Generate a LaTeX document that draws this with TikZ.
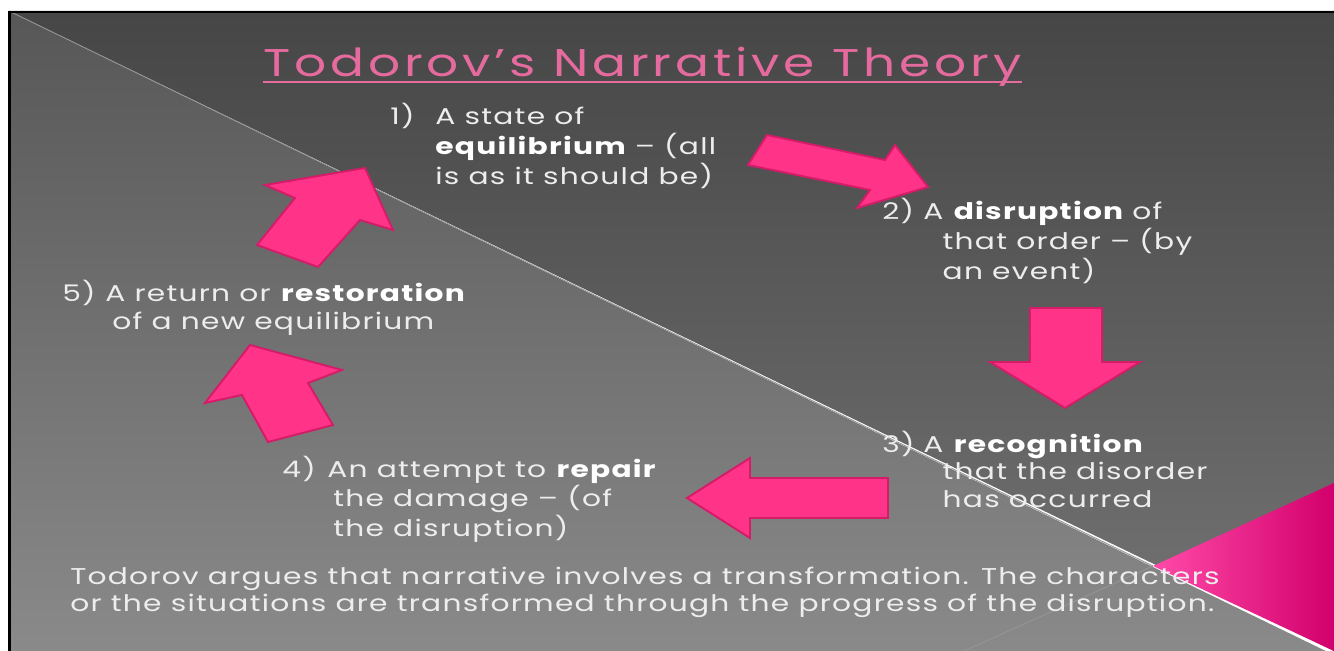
\documentclass[tikz,border=0pt]{standalone}
\usepackage{fontspec}
\setmainfont{Poppins}[FakeStretch=1.3, LetterSpace=5.5]
\newfontfamily\titlefamily{Poppins}[FakeStretch=1.3, LetterSpace=10]

\definecolor{slidetop}{HTML}{464646}
\definecolor{slidebottom}{HTML}{747474}
\definecolor{lowertop}{HTML}{575757}
\definecolor{lowerbottom}{HTML}{8A8A8A}
\definecolor{faintline}{HTML}{959595}
\definecolor{titlepink}{HTML}{E56A9E}
\definecolor{arrowpink}{HTML}{FF3388}
\definecolor{arrowedge}{HTML}{D41C68}
\definecolor{tripinklight}{HTML}{FF4AA8}
\definecolor{tripinkdark}{HTML}{D2006C}
\definecolor{txtgray}{HTML}{EDEDED}

\newcommand{\stagelines}[1]{\begin{tabular}[t]{@{}l@{}}#1\end{tabular}}
\newcommand{\keyword}[1]{\textbf{\color{white}#1}}

\begin{document}
\begin{tikzpicture}[
    x=0.02cm, y=-0.02cm,
    every node/.style={inner sep=0pt, text=txtgray},
    titletext/.style={font=\titlefamily\fontsize{22}{26}\selectfont, text=titlepink, anchor=base west},
    stagetext/.style={font=\fontsize{13}{15.9}\selectfont, anchor=base west},
    summarytext/.style={font=\fontsize{13}{15.4}\selectfont, anchor=base west},
    blockarrow/.style={fill=arrowpink, draw=arrowedge, line width=1.1pt, line join=miter}
]

\useasboundingbox (0,0) rectangle (1334,651);
\fill[white] (0,0) rectangle (1334,651);

% === Slide background (two shaded halves) ===
\shade[top color=slidetop, bottom color=slidebottom]
    (9,11) -- (1334,11) -- (1334,651) -- cycle;
\shade[top color=lowertop, bottom color=lowerbottom]
    (9,11) -- (1334,655) -- (1334,651) -- (9,651) -- cycle;

% Pink corner triangle
\shade[left color=tripinklight, right color=tripinkdark]
    (1153,566) -- (1334,483) -- (1334,651) -- cycle;

% Faint guide lines
\draw[faintline, line width=0.5pt] (9,11) -- (1153,566);
\draw[faintline, line width=0.5pt] (964,651) -- (1153,566);

% Slide frame (top and left only)
\draw[black, line width=1.3pt] (9.5,651) -- (9.5,12) -- (1334,12);

% === Title ===
\node[titletext] (title) at (263,77) {Todorov’s Narrative Theory};
\draw[titlepink, line width=1pt]
    ([yshift=-3pt]title.base west) -- ([yshift=-3pt]title.base east);

% === Stages ===
\node[stagetext] (n1) at (390,125) {1)};
\node[stagetext] (s1) at (435,125)
    {\stagelines{A state of\\ \keyword{equilibrium} – (all\\ is as it should be)}};

\node[stagetext] (n2) at (882,220) {2)};
\node[stagetext] (s2) at (923,220)
    {\stagelines{A \keyword{disruption} of\\ \hspace*{11pt}that order – (by\\ \hspace*{11pt}an event)}};

\node[stagetext] (n3) at (882,452) {3)};
\node[stagetext] (s3) at (923,452)
    {\stagelines{A \keyword{recognition}\\ \hspace*{11pt}that the disorder\\ \hspace*{11pt}has occurred}};

\node[stagetext] (n4) at (282,477) {4)};
\node[stagetext] (s4) at (327,477)
    {\stagelines{An attempt to \keyword{repair}\\ \hspace*{3.4pt}the damage – (of\\ \hspace*{3.4pt}the disruption)}};

\node[stagetext] (n5) at (62,302) {5)};
\node[stagetext] (s5) at (105,302)
    {\stagelines{A return or \keyword{restoration}\\ \hspace*{4pt}of a new equilibrium}};

% === Block arrows between stages ===
% 1 -> 2
\draw[blockarrow] (767,135) -- (885,160) -- (895,145) -- (928,187)
    -- (857,208) -- (870,190) -- (748,165) -- cycle;
% 2 -> 3
\draw[blockarrow] (1030,308) -- (1102,308) -- (1102,362) -- (1140,362)
    -- (1065,408) -- (990,362) -- (1030,362) -- cycle;
% 3 -> 4
\draw[blockarrow] (888,478) -- (750,478) -- (750,458) -- (687,498)
    -- (750,538) -- (750,518) -- (888,518) -- cycle;
% 4 -> 5
\draw[blockarrow] (250,345) -- (342,370) -- (308,383) -- (333,425)
    -- (268,442) -- (242,395) -- (205,403) -- cycle;
% 5 -> 1
\draw[blockarrow] (365,168) -- (393,230) -- (360,220) -- (318,267)
    -- (257,245) -- (295,198) -- (265,185) -- cycle;

% === Summary ===
\node[summarytext] (summary) at (70,584)
    {\stagelines{Todorov argues that narrative involves a transformation. The characters\\
    or the situations are transformed through the progress of the disruption.}};

\end{tikzpicture}
\end{document}
